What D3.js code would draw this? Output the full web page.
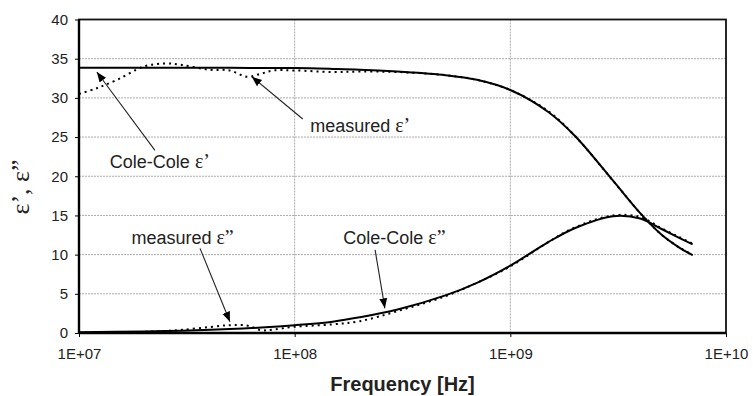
<!DOCTYPE html>
<html>
<head>
<meta charset="utf-8">
<script src="https://cdn.jsdelivr.net/npm/d3@7"></script>
<style>
  body { margin: 0; background: #fff; }
  svg { font-family: "Liberation Sans", Arial, sans-serif; }
</style>
</head>
<body>
<div id="chart"></div>
<script>
// frequencies for the Cole-Cole fit curves (Hz)
var freqFit = [1e7, 2e7, 3e7, 5e7, 7e7, 1e8, 1.5e8, 2e8, 3e8, 5e8, 7e8, 1e9, 1.5e9, 2e9, 3e9, 4e9, 5e9, 6e9, 7e9];
var fitReal = [33.85, 33.85, 33.85, 33.85, 33.8, 33.8, 33.7, 33.6, 33.35, 32.9, 32.3, 31.0, 28.2, 25.1, 19.4, 15.3, 12.6, 11.0, 9.95];
var fitImag = [0.1, 0.2, 0.3, 0.5, 0.7, 1.0, 1.45, 2.0, 3.0, 4.8, 6.4, 8.6, 11.6, 13.4, 14.9, 14.6, 13.3, 12.2, 11.3];

// measured points (Hz)
var freqMeas = [1e7, 1.2e7, 1.5e7, 2e7, 2.5e7, 3e7, 4e7, 5e7, 6e7, 7e7, 8e7, 1e8, 1.5e8, 2e8, 3e8, 5e8, 7e8, 1e9, 1.5e9, 2e9, 3e9, 4e9, 5e9, 6e9, 7e9];
var measReal = [30.5, 31.2, 32.3, 34.0, 34.4, 34.2, 33.6, 33.5, 32.7, 33.1, 33.5, 33.5, 33.3, 33.35, 33.3, 32.9, 32.3, 31.0, 28.3, 25.1, 19.4, 15.3, 12.6, 11.0, 9.95];
var measImag = [0.05, 0.08, 0.1, 0.15, 0.25, 0.4, 0.75, 1.0, 0.95, 0.35, 0.45, 0.8, 1.1, 1.5, 2.8, 4.7, 6.4, 8.5, 11.6, 13.5, 15.0, 14.8, 13.4, 12.3, 11.4];

var xTicks = [1e7, 1e8, 1e9, 1e10];
var xTickLabels = ["1E+07", "1E+08", "1E+09", "1E+10"];
var yTicks = [0, 5, 10, 15, 20, 25, 30, 35, 40];

// labels: text start (f, v), arrow tail (f, v), arrow tip (f, v)
var notes = [
  {text: "Cole-Cole ", sym: "ε’", at: [1.39e7, 21.0], from: [2.25e7, 23.3], to: [1.21e7, 33.3]},
  {text: "measured ", sym: "ε’", at: [1.18e8, 25.6], from: [1.09e8, 27.3], to: [6.33e7, 32.7]},
  {text: "measured ", sym: "ε”", at: [1.75e7, 11.4], from: [3.64e7, 10.8], to: [5.01e7, 1.44]},
  {text: "Cole-Cole ", sym: "ε”", at: [1.68e8, 11.35], from: [2.36e8, 10.6], to: [2.62e8, 3.15]}
];

var W = 753, H = 396;
var mLeft = 79, mRight = 726, mTop = 19.5, mBottom = 333;

var svg = d3.select("#chart").append("svg")
    .attr("width", W)
    .attr("height", H);

var x = d3.scaleLog().domain([1e7, 1e10]).range([mLeft, mRight]);
var y = d3.scaleLinear().domain([0, 40]).range([mBottom, mTop]);

// grid
svg.append("g").selectAll("line")
    .data(yTicks.filter(function(d){ return d > 0 && d < 40; }))
    .enter().append("line")
    .attr("x1", mLeft).attr("x2", mRight)
    .attr("y1", function(d){ return y(d); }).attr("y2", function(d){ return y(d); })
    .attr("stroke", "#aaa").attr("stroke-width", 1).attr("stroke-dasharray", "2,1");

svg.append("g").selectAll("line")
    .data([1e8, 1e9])
    .enter().append("line")
    .attr("x1", function(d){ return x(d); }).attr("x2", function(d){ return x(d); })
    .attr("y1", mTop).attr("y2", mBottom)
    .attr("stroke", "#aaa").attr("stroke-width", 1).attr("stroke-dasharray", "2,1");

// axes
var yAxis = svg.append("g")
    .attr("transform", "translate(" + mLeft + ",0)")
    .call(d3.axisLeft(y).tickValues(yTicks).tickSize(4).tickPadding(7));
yAxis.select(".domain").remove();

var xAxis = svg.append("g")
    .attr("transform", "translate(0," + mBottom + ")")
    .call(d3.axisBottom(x).tickValues(xTicks).tickSize(4).tickPadding(11)
        .tickFormat(function(d, i){ return xTickLabels[i]; }));
xAxis.select(".domain").remove();

[yAxis, xAxis].forEach(function(a){
    a.attr("font-size", 15).attr("font-family", "'Liberation Sans', Arial, sans-serif");
    a.selectAll(".tick text").attr("fill", "#222");
    a.selectAll(".tick line").attr("stroke", "#000");
});

// frame
svg.append("rect")
    .attr("x", mLeft).attr("y", mTop)
    .attr("width", mRight - mLeft).attr("height", mBottom - mTop)
    .attr("fill", "none").attr("stroke", "#111").attr("stroke-width", 1.8);
svg.append("line").attr("x1", mLeft).attr("x2", mLeft).attr("y1", mTop).attr("y2", mBottom + 1)
    .attr("stroke", "#000").attr("stroke-width", 2.4);
svg.append("line").attr("x1", mLeft).attr("x2", mRight).attr("y1", mBottom).attr("y2", mBottom)
    .attr("stroke", "#000").attr("stroke-width", 2.4);

// curves
var line = d3.line()
    .x(function(d){ return x(d[0]); })
    .y(function(d){ return y(d[1]); })
    .curve(d3.curveCatmullRom.alpha(0.5));

function pairs(f, v){ return f.map(function(d, i){ return [d, v[i]]; }); }

svg.append("path").datum(pairs(freqMeas, measReal))
    .attr("d", line).attr("fill", "none").attr("stroke", "#000")
    .attr("stroke-width", 2).attr("stroke-dasharray", "2,4");
svg.append("path").datum(pairs(freqMeas, measImag))
    .attr("d", line).attr("fill", "none").attr("stroke", "#000")
    .attr("stroke-width", 2).attr("stroke-dasharray", "2,4");
svg.append("path").datum(pairs(freqFit, fitReal))
    .attr("d", line).attr("fill", "none").attr("stroke", "#000").attr("stroke-width", 2);
svg.append("path").datum(pairs(freqFit, fitImag))
    .attr("d", line).attr("fill", "none").attr("stroke", "#000").attr("stroke-width", 2);

// arrows + labels
svg.append("defs").append("marker")
    .attr("id", "arrow")
    .attr("viewBox", "0 0 10 10")
    .attr("refX", 10).attr("refY", 5)
    .attr("markerWidth", 10).attr("markerHeight", 10)
    .attr("markerUnits", "userSpaceOnUse")
    .attr("orient", "auto")
    .append("path").attr("d", "M0,1 L10,5 L0,9 Z").attr("fill", "#000");

var g = svg.append("g");
notes.forEach(function(n){
    g.append("line")
        .attr("x1", x(n.from[0])).attr("y1", y(n.from[1]))
        .attr("x2", x(n.to[0])).attr("y2", y(n.to[1]))
        .attr("stroke", "#222").attr("stroke-width", 1.1)
        .attr("marker-end", "url(#arrow)");
    var t = g.append("text")
        .attr("x", x(n.at[0])).attr("y", y(n.at[1]))
        .attr("font-size", 18).attr("fill", "#222");
    t.append("tspan").text(n.text);
    t.append("tspan").attr("font-family", "'Liberation Serif', serif").attr("font-size", 20).text(n.sym);
});

// axis titles
svg.append("text")
    .attr("x", (mLeft + mRight) / 2).attr("y", 391)
    .attr("text-anchor", "middle")
    .attr("font-size", 20).attr("font-weight", "bold").attr("fill", "#222")
    .text("Frequency [Hz]");

svg.append("text")
    .attr("transform", "translate(29,187) rotate(-90)")
    .attr("text-anchor", "middle")
    .attr("font-family", "'Liberation Serif', serif")
    .attr("font-size", 26).attr("fill", "#222")
    .text("ε’, ε”");
</script>
</body>
</html>
